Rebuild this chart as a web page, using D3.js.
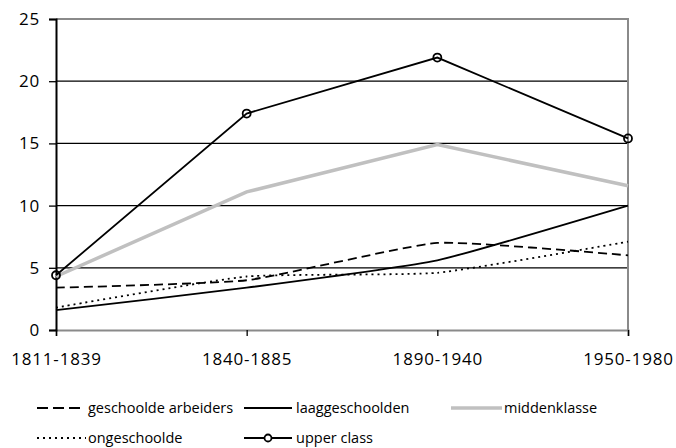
<!DOCTYPE html>
<html>
<head>
<meta charset="utf-8">
<script src="https://cdn.jsdelivr.net/npm/d3@7"></script>
<style>
  body { margin: 0; background: #fff; }
  svg { display: block; }
</style>
</head>
<body>
<div id="chart"></div>
<script>
// data
const periods = ['1811-1839', '1840-1885', '1890-1940', '1950-1980'];
const geschooldeArbeiders = [3.4, 4.0, 7.0, 6.0];
const laaggeschoolden = [1.6, 3.4, 5.6, 10.0];
const middenklasse = [4.3, 11.1, 14.9, 11.6];
const ongeschoolde = [1.8, 4.3, 4.6, 7.1];
const upperClass = [4.4, 17.4, 21.9, 15.4];
const yTicks = [0, 5, 10, 15, 20, 25];

const width = 676;
const height = 448;
const margin = { l: 56, r: 48, t: 19, b: 118 };

const svg = d3.select('#chart').append('svg')
  .attr('width', width)
  .attr('height', height);

const x = d3.scalePoint()
  .domain(periods)
  .range([margin.l, width - margin.r]);

const y = d3.scaleLinear()
  .domain([0, 25])
  .range([height - margin.b, margin.t]);

// grid lines
svg.append('g')
  .attr('class', 'y-grid')
  .selectAll('line')
  .data(yTicks.filter((d) => d > 0 && d < 25))
  .join('line')
    .attr('x1', margin.l)
    .attr('x2', width - margin.r)
    .attr('y1', (d) => y(d))
    .attr('y2', (d) => y(d))
    .attr('stroke', '#000')
    .attr('stroke-width', 1.2);

// plot border (top + right gray)
svg.append('path')
  .attr('d', `M${margin.l},${y(25)}H${width - margin.r}V${y(0)}`)
  .attr('fill', 'none')
  .attr('stroke', '#8a8a8a')
  .attr('stroke-width', 2);

const tickFont = (sel) => sel
  .attr('fill', '#000')
  .style('font-family', '"Open Sans", sans-serif')
  .style('font-size', '17px')
  .style('letter-spacing', '0.8px');

// x axis
const xAxis = svg.append('g')
  .attr('transform', `translate(0,${y(0)})`)
  .call(d3.axisBottom(x).tickSize(6).tickPadding(17));
xAxis.select('.domain')
  .attr('stroke', '#8a8a8a')
  .attr('stroke-width', 2);
xAxis.selectAll('.tick line').attr('stroke', '#000').attr('stroke-width', 1.3);
xAxis.selectAll('text').call(tickFont);

// y axis
const yAxis = svg.append('g')
  .attr('transform', `translate(${margin.l},0)`)
  .call(d3.axisLeft(y).tickValues(yTicks).tickSize(7).tickPadding(9));
yAxis.select('.domain').attr('stroke', '#000').attr('stroke-width', 2);
yAxis.selectAll('.tick line').attr('stroke', '#000').attr('stroke-width', 1.3);
yAxis.selectAll('text').call(tickFont);

const smooth = d3.curveCardinal.tension(0.55);
const series = [
  { name: 'geschoolde arbeiders', values: geschooldeArbeiders, color: '#000', width: 1.8, dash: '9,5', curve: smooth },
  { name: 'laaggeschoolden', values: laaggeschoolden, color: '#000', width: 1.8, dash: null, curve: smooth },
  { name: 'middenklasse', values: middenklasse, color: '#c0c0c0', width: 3.5, dash: null, curve: d3.curveLinear },
  { name: 'ongeschoolde', values: ongeschoolde, color: '#000', width: 1.8, dash: '2,4', curve: smooth },
  { name: 'upper class', values: upperClass, color: '#000', width: 1.8, dash: null, curve: d3.curveLinear, marker: true },
];

const lines = svg.append('g').attr('class', 'lines');
series.forEach((s) => {
  const line = d3.line()
    .x((d, i) => x(periods[i]))
    .y((d) => y(d))
    .curve(s.curve);
  lines.append('path')
    .datum(s.values)
    .attr('d', line)
    .attr('fill', 'none')
    .attr('stroke', s.color)
    .attr('stroke-width', s.width)
    .attr('stroke-dasharray', s.dash);
  if (s.marker) {
    lines.append('g')
      .selectAll('circle')
      .data(s.values)
      .join('circle')
        .attr('cx', (d, i) => x(periods[i]))
        .attr('cy', (d) => y(d))
        .attr('r', 4)
        .attr('fill', 'none')
        .attr('stroke', '#000')
        .attr('stroke-width', 1.8);
  }
});

// legend
const legendPos = [
  { x1: 37, x2: 81, tx: 88, y: 408 },
  { x1: 244, x2: 292, tx: 296, y: 408 },
  { x1: 451, x2: 502, tx: 504, y: 408 },
  { x1: 37, x2: 86, tx: 88, y: 438 },
  { x1: 244, x2: 292, tx: 296, y: 438 },
];
const legend = svg.append('g').attr('class', 'legend');
series.forEach((s, i) => {
  const p = legendPos[i];
  legend.append('line')
    .attr('x1', p.x1)
    .attr('x2', p.x2)
    .attr('y1', p.y)
    .attr('y2', p.y)
    .attr('stroke', s.color)
    .attr('stroke-width', s.dash === '9,5' ? 2.2 : s.width)
    .attr('stroke-dasharray', s.dash === '9,5' ? '11,5' : s.dash);
  if (s.marker) {
    legend.append('circle')
      .attr('cx', (p.x1 + p.x2) / 2)
      .attr('cy', p.y)
      .attr('r', 3.5)
      .attr('fill', '#fff')
      .attr('stroke', '#000')
      .attr('stroke-width', 1.8);
  }
  legend.append('text')
    .attr('x', p.tx)
    .attr('y', p.y)
    .attr('dy', '0.32em')
    .attr('fill', '#000')
    .style('font-family', '"Open Sans", sans-serif')
    .style('font-size', '14.5px')
    .text(s.name);
});
</script>
</body>
</html>
